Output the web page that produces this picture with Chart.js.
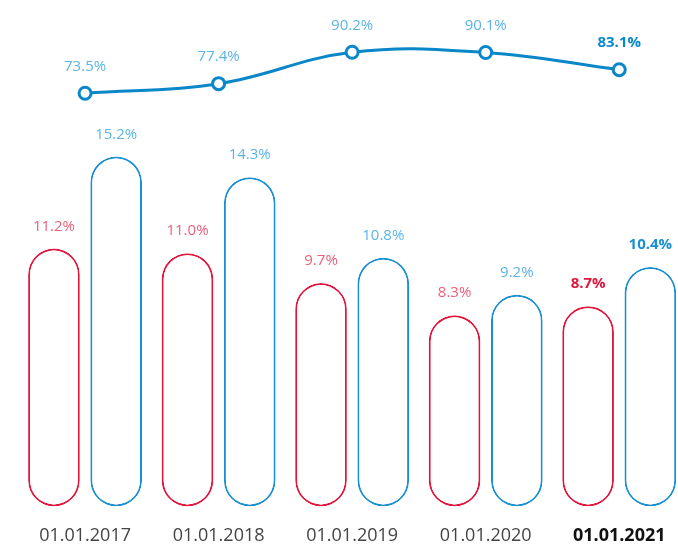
<!DOCTYPE html>
<html>
<head>
<meta charset="utf-8">
<script src="https://cdn.jsdelivr.net/npm/chart.js@4"></script>
<style>
  html, body { margin: 0; padding: 0; background: #fff; overflow: hidden; }
  #wrap { width: 686px; height: 565px; position: relative; }
</style>
</head>
<body>
<div id="wrap"><canvas id="chart"></canvas></div>
<script>
const dates = ['01.01.2017', '01.01.2018', '01.01.2019', '01.01.2020', '01.01.2021'];
const redValues = [11.2, 11.0, 9.7, 8.3, 8.7];
const blueValues = [15.2, 14.3, 10.8, 9.2, 10.4];
const lineValues = [73.5, 77.4, 90.2, 90.1, 83.1];

const FONT = "'Open Sans', sans-serif";
const RED = '#e0163c';
const RED_LIGHT = '#ec6079';
const BLUE = '#1a8fd1';
const BLUE_LIGHT = '#5cb4e4';
const LINE_BLUE = '#0a87c9';
const last = dates.length - 1;

// draws the percent labels above bars and points
const valueLabels = {
  id: 'valueLabels',
  afterDatasetsDraw(chart) {
    const ctx = chart.ctx;
    ctx.save();
    ctx.textAlign = 'center';
    ctx.textBaseline = 'alphabetic';
    chart.data.datasets.forEach((ds, i) => {
      const meta = chart.getDatasetMeta(i);
      meta.data.forEach((el, j) => {
        const bold = j === last;
        ctx.font = (bold ? 'bold ' : '') + '15px ' + FONT;
        let color, y;
        if (ds.type === 'line') {
          color = bold ? LINE_BLUE : BLUE_LIGHT;
          y = el.y - 22.5;
        } else {
          color = ds.label === 'red' ? (bold ? RED : RED_LIGHT) : (bold ? BLUE : BLUE_LIGHT);
          y = el.y - 18;
        }
        ctx.fillStyle = color;
        ctx.fillText(ds.data[j].toFixed(1) + '%', el.x, y);
      });
    });
    ctx.restore();
  }
};

new Chart(document.getElementById('chart'), {
  data: {
    labels: dates,
    datasets: [
      {
        type: 'line',
        label: 'share',
        data: lineValues,
        yAxisID: 'yLine',
        borderColor: LINE_BLUE,
        borderWidth: 3,
        tension: 0.4,
        pointRadius: 6,
        pointBorderWidth: 3,
        pointBackgroundColor: '#fff',
        pointBorderColor: LINE_BLUE,
        order: 0
      },
      {
        type: 'bar',
        label: 'red',
        data: redValues,
        yAxisID: 'yBar',
        backgroundColor: '#fff',
        borderColor: RED,
        borderWidth: 2,
        borderRadius: 30,
        borderSkipped: false,
        order: 1
      },
      {
        type: 'bar',
        label: 'blue',
        data: blueValues,
        yAxisID: 'yBar',
        backgroundColor: '#fff',
        borderColor: BLUE,
        borderWidth: 2,
        borderRadius: 30,
        borderSkipped: false,
        order: 1
      }
    ]
  },
  options: {
    responsive: true,
    maintainAspectRatio: false,
    animation: false,
    layout: { autoPadding: false, padding: { left: 18.3, right: 0, top: 0, bottom: 0 } },
    datasets: { bar: { categoryPercentage: 0.932, barPercentage: 0.83 } },
    plugins: {
      legend: { display: false },
      tooltip: { enabled: false }
    },
    scales: {
      x: {
        grid: { display: false, drawTicks: false },
        border: { display: false },
        ticks: {
          padding: 18.5,
          color: (c) => c.index === last ? '#111' : '#444',
          font: (c) => ({ family: FONT, size: 18, weight: c.index === last ? 'bold' : 'normal' })
        }
      },
      yBar: {
        display: false,
        min: 0,
        max: 22
      },
      yLine: {
        display: false,
        min: -94.9,
        max: 111.5
      }
    }
  },
  plugins: [valueLabels]
});
</script>
</body>
</html>
